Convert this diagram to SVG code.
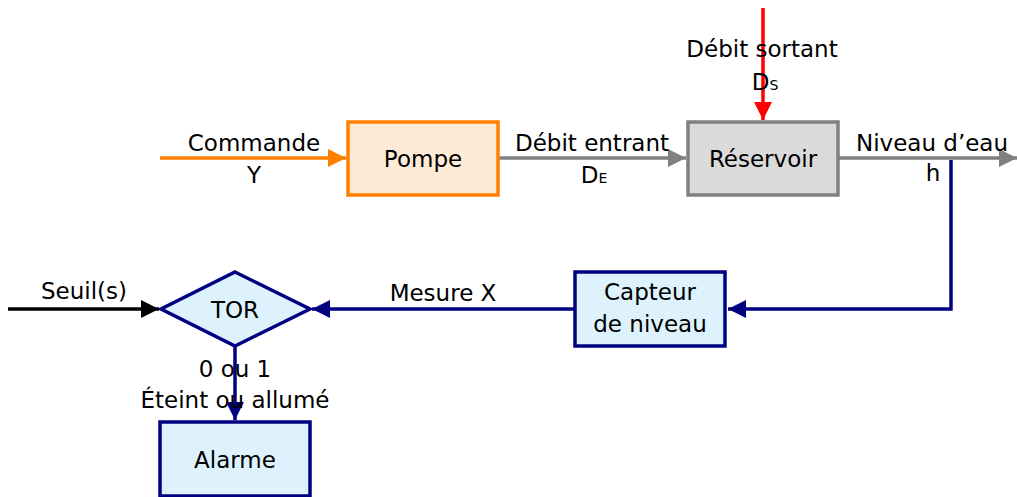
<svg xmlns="http://www.w3.org/2000/svg" width="1017" height="497" viewBox="0 0 1017 497">
<style>
text{font-family:"DejaVu Sans","Noto Sans",sans-serif;font-size:23px;fill:#000;text-anchor:middle}
.sub{font-size:14px}
.box{stroke-width:3.5}
</style>
<defs>
<marker id="aO" markerUnits="userSpaceOnUse" markerWidth="19" markerHeight="18" refX="18" refY="9" orient="auto"><path d="M0,0 L18,9 L0,18 Z" fill="#FF8000"/></marker>
<marker id="aG" markerUnits="userSpaceOnUse" markerWidth="19" markerHeight="18" refX="18" refY="9" orient="auto"><path d="M0,0 L18,9 L0,18 Z" fill="#808080"/></marker>
<marker id="aR" markerUnits="userSpaceOnUse" markerWidth="19" markerHeight="18" refX="18" refY="9" orient="auto"><path d="M0,0 L18,9 L0,18 Z" fill="#FF0000"/></marker>
<marker id="aB" markerUnits="userSpaceOnUse" markerWidth="19" markerHeight="18" refX="18" refY="9" orient="auto"><path d="M0,0 L18,9 L0,18 Z" fill="#000080"/></marker>
<marker id="aK" markerUnits="userSpaceOnUse" markerWidth="19" markerHeight="18" refX="18" refY="9" orient="auto"><path d="M0,0 L18,9 L0,18 Z" fill="#000"/></marker>
</defs>
<rect width="1017" height="497" fill="#fff"/>
<g id="connectors" fill="none">
<line x1="160" y1="158" x2="346" y2="158" stroke="#FF8000" stroke-width="3.5" marker-end="url(#aO)"/>
<line x1="499" y1="158" x2="686" y2="158" stroke="#808080" stroke-width="3.5" marker-end="url(#aG)"/>
<line x1="763" y1="8" x2="763" y2="120" stroke="#FF0000" stroke-width="3.5" marker-end="url(#aR)"/>
<line x1="839" y1="158" x2="1017" y2="158" stroke="#808080" stroke-width="3.5" marker-end="url(#aG)"/>
<polyline points="951,160 951,309 728,309" stroke="#000080" stroke-width="3.5" marker-end="url(#aB)"/>
<line x1="574" y1="309" x2="312" y2="309" stroke="#000080" stroke-width="3.5" marker-end="url(#aB)"/>
<line x1="8" y1="309" x2="159" y2="309" stroke="#000" stroke-width="3.5" marker-end="url(#aK)"/>
<line x1="235" y1="347" x2="235" y2="420" stroke="#000080" stroke-width="3.5" marker-end="url(#aB)"/>
</g>
<g id="labels">
<text x="254" y="151">Commande</text>
<text x="254" y="183">Y</text>
<text x="592" y="151">Débit entrant</text>
<text x="594" y="183">D<tspan class="sub">E</tspan></text>
<text x="762" y="57">Débit sortant</text>
<text x="765" y="90">D<tspan class="sub">S</tspan></text>
<text x="932" y="151">Niveau d’eau</text>
<text x="933" y="181">h</text>
<text x="443" y="301">Mesure X</text>
<text x="84" y="299">Seuil(s)</text>
<text x="235" y="377">0 ou 1</text>
<text x="235" y="408">Éteint ou allumé</text>
</g>
<g id="pompe">
<rect class="box" x="348" y="122" width="150" height="73" fill="#FDEBD7" stroke="#FF8000"/>
<text x="423" y="167">Pompe</text>
</g>
<g id="reservoir">
<rect class="box" x="688" y="122" width="150" height="73" fill="#DADADA" stroke="#808080"/>
<text x="763" y="167">Réservoir</text>
</g>
<g id="capteur">
<rect class="box" x="575" y="272" width="150" height="74" fill="#DDF2FC" stroke="#000080"/>
<text x="650" y="300">Capteur</text>
<text x="650" y="332">de niveau</text>
</g>
<g id="tor">
<polygon points="235,272 310,309 235,346 161,309" fill="#DDF2FC" stroke="#000080" stroke-width="3.5"/>
<text x="235" y="318">TOR</text>
</g>
<g id="alarme">
<rect class="box" x="160" y="422" width="150" height="74" fill="#DDF2FC" stroke="#000080"/>
<text x="235" y="468">Alarme</text>
</g>
</svg>
